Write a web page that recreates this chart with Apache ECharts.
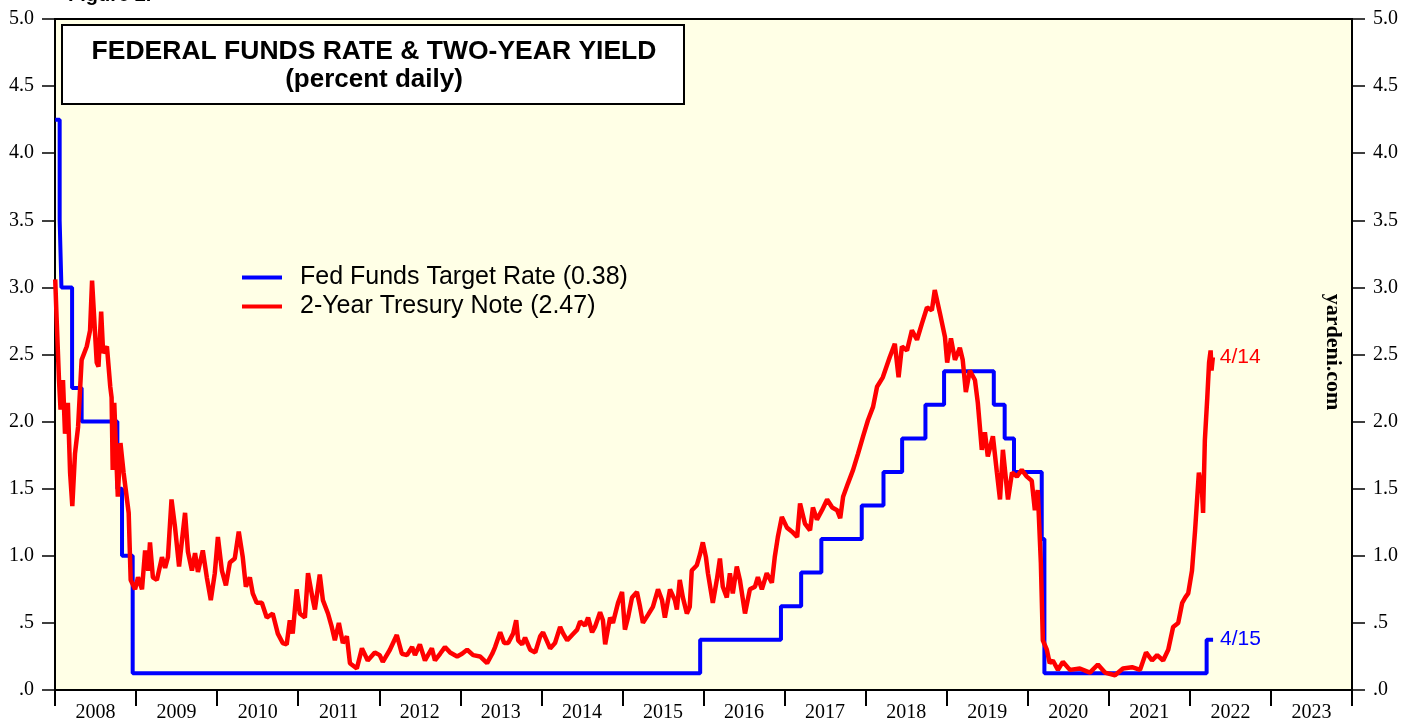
<!DOCTYPE html>
<html>
<head>
<meta charset="utf-8">
<title>Federal Funds Rate & Two-Year Yield</title>
<script src="https://cdn.jsdelivr.net/npm/echarts@6/dist/echarts.min.js"></script>
<style>
  html, body { margin: 0; padding: 0; background: #fff; }
  #chart { width: 1417px; height: 721px; }
</style>
</head>
<body>
<div id="chart"></div>
<script>
// year bands on the bottom axis
const years = ['2008', '2009', '2010', '2011', '2012', '2013', '2014', '2015',
  '2016', '2017', '2018', '2019', '2020', '2021', '2022', '2023'];

// fed funds target (midpoint of range), date the new rate took effect
const fedDates = ['2008-01-02', '2008-01-22', '2008-01-30', '2008-03-18', '2008-04-30',
  '2008-10-08', '2008-10-29', '2008-12-16', '2015-12-17', '2016-12-15', '2017-03-16',
  '2017-06-15', '2017-12-14', '2018-03-22', '2018-06-14', '2018-09-27', '2018-12-20',
  '2019-08-01', '2019-09-19', '2019-10-31', '2020-03-04', '2020-03-16', '2022-03-17',
  '2022-04-15'];
const fedRates = [4.25, 3.5, 3.0, 2.25, 2.0,
  1.5, 1.0, 0.125, 0.375, 0.625, 0.875,
  1.125, 1.375, 1.625, 1.875, 2.125, 2.375,
  2.125, 1.875, 1.625, 1.125, 0.125, 0.375,
  0.375];

// 2-year treasury note
const tsyDates = [
  // 2008
  '2008-01-02', '2008-01-08', '2008-01-19', '2008-01-26', '2008-02-06', '2008-02-15',
  '2008-02-28', '2008-03-09', '2008-03-19', '2008-03-31', '2008-04-14', '2008-04-30',
  '2008-05-23', '2008-06-07', '2008-06-16', '2008-07-07', '2008-07-15', '2008-07-27',
  '2008-08-05', '2008-08-22', '2008-09-06', '2008-09-12', '2008-09-17', '2008-09-24',
  '2008-10-10', '2008-10-22', '2008-11-05', '2008-11-28', '2008-12-07', '2008-12-27',
  // 2009
  '2009-01-09', '2009-01-27', '2009-02-10', '2009-02-24', '2009-03-04', '2009-03-17',
  '2009-04-04', '2009-04-27', '2009-05-11', '2009-05-24', '2009-06-09', '2009-06-25',
  '2009-07-13', '2009-08-09', '2009-08-22', '2009-09-09', '2009-09-23', '2009-10-06',
  '2009-10-28', '2009-11-15', '2009-12-03', '2009-12-21',
  // 2010
  '2010-01-04', '2010-01-22', '2010-02-09', '2010-02-27', '2010-03-21', '2010-04-08',
  '2010-04-26', '2010-05-10', '2010-05-28', '2010-06-10', '2010-06-28', '2010-07-21',
  '2010-08-12', '2010-09-08', '2010-10-01', '2010-10-23', '2010-11-10', '2010-11-24',
  '2010-12-07', '2010-12-25',
  // 2011
  '2011-01-08', '2011-01-31', '2011-02-14', '2011-03-08', '2011-03-17', '2011-04-08',
  '2011-04-22', '2011-05-15', '2011-06-01', '2011-06-15', '2011-07-03', '2011-07-21',
  '2011-08-08', '2011-08-22', '2011-09-22', '2011-10-15', '2011-11-10', '2011-12-12',
  // 2012
  '2012-01-03', '2012-01-17', '2012-02-18', '2012-03-20', '2012-04-12', '2012-05-05',
  '2012-05-28', '2012-06-10', '2012-07-02', '2012-07-25', '2012-08-25', '2012-09-08',
  '2012-10-01', '2012-10-23', '2012-11-15', '2012-12-17',
  // 2013
  '2013-01-08', '2013-01-31', '2013-02-27', '2013-03-30', '2013-05-01', '2013-05-24',
  '2013-06-06', '2013-06-29', '2013-07-17', '2013-08-04', '2013-08-26', '2013-09-09',
  '2013-09-18', '2013-10-06', '2013-10-19', '2013-11-11', '2013-12-04', '2013-12-26',
  // 2014
  '2014-01-08', '2014-02-09', '2014-03-03', '2014-03-26', '2014-04-09', '2014-04-27',
  '2014-05-19', '2014-06-11', '2014-06-24', '2014-07-16', '2014-07-30', '2014-08-17',
  '2014-08-30', '2014-09-22', '2014-10-05', '2014-10-15', '2014-11-06', '2014-11-19',
  '2014-12-12', '2014-12-30',
  // 2015
  '2015-01-12', '2015-01-26', '2015-02-13', '2015-03-07', '2015-03-21', '2015-04-03',
  '2015-04-26', '2015-05-18', '2015-06-10', '2015-06-28', '2015-07-11', '2015-08-03',
  '2015-08-25', '2015-09-03', '2015-09-16', '2015-09-30', '2015-10-18', '2015-10-31',
  '2015-11-09', '2015-12-02', '2015-12-16', '2015-12-29',
  // 2016
  '2016-01-12', '2016-01-21', '2016-02-12', '2016-03-01', '2016-03-15', '2016-03-28',
  '2016-04-15', '2016-04-29', '2016-05-12', '2016-05-30', '2016-06-13', '2016-07-06',
  '2016-07-28', '2016-08-20', '2016-09-02', '2016-09-20', '2016-10-12', '2016-11-04',
  '2016-11-17', '2016-12-01', '2016-12-19',
  // 2017
  '2017-01-11', '2017-02-03', '2017-02-26', '2017-03-11', '2017-04-02', '2017-04-25',
  '2017-05-08', '2017-05-26', '2017-06-18', '2017-07-11', '2017-08-03', '2017-08-25',
  '2017-09-08', '2017-09-21', '2017-10-13', '2017-11-05', '2017-11-27', '2017-12-20',
  // 2018
  '2018-01-11', '2018-02-03', '2018-02-21', '2018-03-19', '2018-04-19', '2018-05-12',
  '2018-05-29', '2018-06-13', '2018-07-06', '2018-07-28', '2018-08-20', '2018-09-11',
  '2018-10-04', '2018-10-26', '2018-11-08', '2018-12-01', '2018-12-24',
  // 2019
  '2019-01-03', '2019-01-20', '2019-02-07', '2019-03-01', '2019-03-14', '2019-03-28',
  '2019-04-15', '2019-05-08', '2019-05-21', '2019-06-08', '2019-06-22', '2019-07-05',
  '2019-07-28', '2019-08-15', '2019-08-29', '2019-09-11', '2019-10-04', '2019-10-22',
  '2019-11-13', '2019-12-05', '2019-12-28',
  // 2020
  '2020-01-19', '2020-02-02', '2020-02-15', '2020-02-29', '2020-03-09', '2020-03-27',
  '2020-04-09', '2020-04-23', '2020-05-16', '2020-06-07', '2020-07-09', '2020-08-23',
  '2020-10-07', '2020-11-12', '2020-12-14',
  // 2021
  '2021-01-28', '2021-03-05', '2021-04-15', '2021-05-21', '2021-06-17', '2021-07-14',
  '2021-08-06', '2021-09-02', '2021-09-25', '2021-10-17', '2021-11-09', '2021-11-27',
  '2021-12-11', '2021-12-24',
  // 2022
  '2022-01-10', '2022-01-24', '2022-02-10', '2022-02-24', '2022-03-01', '2022-03-09',
  '2022-03-20', '2022-03-28', '2022-04-04', '2022-04-08', '2022-04-14'
];
const tsyYields = [
  // 2008
  3.06, 2.78, 2.31, 2.09, 2.31, 1.91,
  2.14, 1.62, 1.37, 1.76, 1.96, 2.46,
  2.56, 2.68, 3.05, 2.44, 2.41, 2.82,
  2.51, 2.56, 2.26, 2.18, 1.64, 2.14,
  1.44, 1.84, 1.62, 1.32, 0.82, 0.75,
  // 2009
  0.84, 0.75, 1.04, 0.89, 1.10, 0.84,
  0.82, 0.99, 0.91, 0.99, 1.42, 1.21,
  0.92, 1.32, 1.03, 0.89, 1.02, 0.88,
  1.04, 0.84, 0.67, 0.87,
  // 2010
  1.14, 0.89, 0.78, 0.95, 0.98, 1.18,
  0.99, 0.77, 0.84, 0.72, 0.65, 0.65,
  0.54, 0.57, 0.42, 0.35, 0.34, 0.52,
  0.42, 0.75,
  // 2011
  0.57, 0.54, 0.87, 0.67, 0.60, 0.86,
  0.67, 0.57, 0.47, 0.37, 0.50, 0.35,
  0.40, 0.20, 0.16, 0.31, 0.22, 0.28,
  // 2012
  0.26, 0.21, 0.30, 0.41, 0.27, 0.26,
  0.32, 0.26, 0.34, 0.22, 0.31, 0.22,
  0.27, 0.32, 0.28, 0.25,
  // 2013
  0.27, 0.30, 0.26, 0.25, 0.20, 0.27,
  0.32, 0.43, 0.35, 0.35, 0.42, 0.52,
  0.37, 0.34, 0.39, 0.30, 0.28, 0.40,
  // 2014
  0.43, 0.31, 0.35, 0.47, 0.42, 0.37,
  0.41, 0.45, 0.51, 0.48, 0.54, 0.43,
  0.47, 0.58, 0.52, 0.34, 0.54, 0.50,
  0.65, 0.73,
  // 2015
  0.45, 0.54, 0.69, 0.73, 0.62, 0.50,
  0.56, 0.62, 0.75, 0.67, 0.54, 0.75,
  0.67, 0.60, 0.82, 0.69, 0.57, 0.62,
  0.89, 0.93, 1.01, 1.10,
  // 2016
  0.99, 0.87, 0.65, 0.82, 0.98, 0.77,
  0.69, 0.87, 0.72, 0.92, 0.82, 0.57,
  0.75, 0.77, 0.84, 0.75, 0.87, 0.80,
  0.99, 1.14, 1.29,
  // 2017
  1.21, 1.18, 1.14, 1.39, 1.24, 1.19,
  1.36, 1.27, 1.34, 1.42, 1.36, 1.34,
  1.28, 1.44, 1.54, 1.64, 1.76, 1.89,
  // 2018
  2.01, 2.11, 2.26, 2.33, 2.48, 2.58,
  2.33, 2.56, 2.53, 2.68, 2.61, 2.73,
  2.85, 2.83, 2.98, 2.81, 2.63,
  // 2019
  2.44, 2.62, 2.46, 2.55, 2.46, 2.22,
  2.38, 2.31, 2.14, 1.79, 1.92, 1.74,
  1.89, 1.62, 1.42, 1.79, 1.42, 1.62,
  1.59, 1.64, 1.59,
  // 2020
  1.56, 1.34, 1.49, 0.95, 0.37, 0.30,
  0.20, 0.22, 0.15, 0.21, 0.15, 0.16,
  0.13, 0.19, 0.13,
  // 2021
  0.11, 0.16, 0.17, 0.15, 0.28, 0.22,
  0.26, 0.22, 0.30, 0.47, 0.50, 0.65,
  0.69, 0.72,
  // 2022
  0.89, 1.19, 1.62, 1.49, 1.32, 1.86,
  2.18, 2.44, 2.53, 2.38, 2.48
];

const serif = '"Liberation Serif", "DejaVu Serif", serif';
const sans = '"Liberation Sans", Arial, sans-serif';

const chart = echarts.init(document.getElementById('chart'));

// 0.5 -> ".5", 0 -> ".0"
const yLabel = (v) => v.toFixed(1).replace(/^0/, '');

const yAxisBase = {
  type: 'value',
  min: 0,
  max: 5,
  interval: 0.5,
  splitLine: { show: false },
  axisLine: { show: true, lineStyle: { color: '#000', width: 2 } },
  axisTick: { show: true, inside: false, length: 13, lineStyle: { color: '#000', width: 1.5 } },
  axisLabel: {
    show: true, margin: 21, color: '#000', fontFamily: serif, fontSize: 20,
    formatter: yLabel, showMinLabel: true, showMaxLabel: true
  }
};

const option = {
  animation: false,
  backgroundColor: '#fff',
  grid: {
    left: 55, right: 65, top: 19, bottom: 31,
    outerBoundsMode: 'none',
    show: true, backgroundColor: '#FFFFE6', borderColor: '#000', borderWidth: 2
  },
  legend: {
    orient: 'vertical',
    left: 237,
    top: 260,
    itemWidth: 40,
    itemHeight: 4,
    itemGap: 4,
    icon: 'rect',
    textStyle: { fontFamily: sans, fontSize: 25, color: '#000', padding: [0, 0, 0, 13] },
    data: ['Fed Funds Target Rate (0.38)', '2-Year Tresury Note (2.47)']
  },
  xAxis: [
    {
      type: 'category',
      data: years,
      boundaryGap: true,
      position: 'bottom',
      axisLine: { show: true, lineStyle: { color: '#000', width: 2 } },
      axisTick: { show: true, inside: false, length: 16, interval: 0, lineStyle: { color: '#000', width: 2 } },
      axisLabel: { interval: 0, margin: 13, color: '#000', fontFamily: serif, fontSize: 20 },
      splitLine: { show: false }
    },
    {
      type: 'time',
      min: +new Date(2008, 0, 1),
      max: +new Date(2024, 0, 1),
      show: false
    }
  ],
  yAxis: [
    Object.assign({}, yAxisBase, { position: 'left' }),
    Object.assign({}, yAxisBase, { position: 'right' })
  ],
  graphic: [
    {
      type: 'text', x: 68, y: 5,
      style: { text: 'Figure 2.', font: 'bold 20px ' + sans, fill: '#000', textVerticalAlign: 'bottom', verticalAlign: 'bottom' }
    },
    {
      type: 'rect', shape: { x: 62, y: 25, width: 622, height: 79 },
      style: { fill: '#fff', stroke: '#000', lineWidth: 2 }, z: 10
    },
    {
      type: 'text', x: 374, y: 52, z: 11,
      style: {
        text: 'FEDERAL FUNDS RATE & TWO-YEAR YIELD', font: 'bold 26.5px ' + sans, fill: '#000',
        textAlign: 'center', align: 'center', textVerticalAlign: 'middle', verticalAlign: 'middle'
      }
    },
    {
      type: 'text', x: 374, y: 80, z: 11,
      style: {
        text: '(percent daily)', font: 'bold 26px ' + sans, fill: '#000',
        textAlign: 'center', align: 'center', textVerticalAlign: 'middle', verticalAlign: 'middle'
      }
    },
    {
      type: 'text', x: 1333, y: 352, rotation: -Math.PI / 2, z: 11,
      style: {
        text: 'yardeni.com', font: 'bold 22px ' + serif, fill: '#000',
        textAlign: 'center', align: 'center', textVerticalAlign: 'middle', verticalAlign: 'middle'
      }
    }
  ],
  series: [
    {
      name: 'Fed Funds Target Rate (0.38)',
      type: 'line',
      xAxisIndex: 1,
      yAxisIndex: 0,
      step: 'end',
      showSymbol: false,
      color: '#0000FF',
      lineStyle: { color: '#0000FF', width: 4 },
      data: fedDates.map((d, i) => [d, fedRates[i]]),
      endLabel: {
        show: true, formatter: '4/15', color: '#0000FF', fontFamily: sans, fontSize: 21, distance: 7
      }
    },
    {
      name: '2-Year Tresury Note (2.47)',
      type: 'line',
      xAxisIndex: 1,
      yAxisIndex: 0,
      showSymbol: false,
      color: '#FF0000',
      lineStyle: { color: '#FF0000', width: 4.5 },
      data: tsyDates.map((d, i) => [d, tsyYields[i]]),
      endLabel: {
        show: true, formatter: '4/14', color: '#FF0000', fontFamily: sans, fontSize: 21, distance: 7
      }
    }
  ]
};

chart.setOption(option);
</script>
</body>
</html>
